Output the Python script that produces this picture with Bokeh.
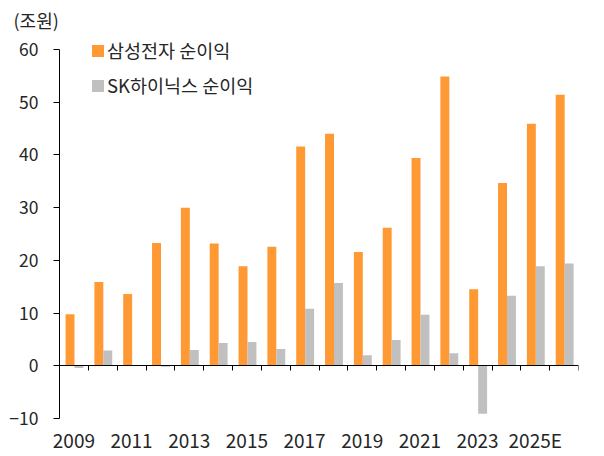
import numpy as np
from bokeh.plotting import figure
from bokeh.models import (ColumnDataSource, LinearAxis, FixedTicker, Range1d, Title)
from bokeh.transform import dodge
from bokeh.embed import file_html
from bokeh.resources import INLINE

years = ["2009", "2010", "2011", "2012", "2013", "2014", "2015", "2016", "2017",
         "2018", "2019", "2020", "2021", "2022", "2023", "2024", "2025E", "2026E"]
samsung = [9.8, 15.9, 13.6, 23.3, 30.0, 23.2, 18.9, 22.6, 41.6,
           44.0, 21.6, 26.2, 39.4, 54.9, 14.5, 34.7, 45.9, 51.4]
hynix = [-0.4, 2.9, 0.1, -0.2, 3.0, 4.3, 4.5, 3.2, 10.8,
         15.7, 2.0, 4.9, 9.7, 2.4, -9.1, 13.3, 18.9, 19.4]
y_ticks = [-10, 0, 10, 20, 30, 40, 50, 60]
unit_label = "(조원)"
series_names = ["삼성전자 순이익", "SK하이닉스 순이익"]

FONT = "Noto Sans CJK KR"
ORANGE = "#FF9933"
GRAY = "#C0C0C0"
TXT = "#262626"

x = np.arange(len(years))
src = ColumnDataSource(dict(x=x, samsung=samsung, hynix=hynix))

xr = Range1d(-0.5, len(years) - 0.5)
# a little headroom above the top tick so the legend stays inside the plot area
yr = Range1d(y_ticks[0], y_ticks[-1] + 2.66)

p = figure(width=596, height=456, x_range=xr, y_range=yr,
           output_backend="svg", toolbar_location=None,
           min_border_left=59, min_border_right=18, min_border_top=35,
           min_border_bottom=38)
p.outline_line_color = None
p.grid.grid_line_color = None

p.vbar(x=dodge("x", -0.135, range=xr), top="samsung", width=0.31, source=src,
       fill_color=ORANGE, line_color=None, legend_label=series_names[0])
p.vbar(x=dodge("x", 0.175, range=xr), top="hynix", width=0.31, source=src,
       fill_color=GRAY, line_color=None, legend_label=series_names[1])

ya = p.yaxis[0]
ya.ticker = FixedTicker(ticks=y_ticks)
ya.bounds = (y_ticks[0], y_ticks[-1])
ya.major_tick_out = 6
ya.major_tick_in = 0
ya.minor_tick_out = 0
ya.minor_tick_in = 0
ya.axis_line_color = "black"
ya.major_tick_line_color = "black"
ya.major_label_text_font = FONT
ya.major_label_text_font_size = "17.5px"
ya.major_label_text_color = TXT
ya.major_label_standoff = 15

xa = p.xaxis[0]
xa.ticker = FixedTicker(ticks=[int(i) for i in x[::2]])
xa.major_label_overrides = {int(i): years[i] for i in x[::2]}
xa.axis_line_color = None
xa.major_tick_line_color = None
xa.minor_tick_line_color = None
xa.major_tick_out = 0
xa.major_tick_in = 0
xa.major_label_text_font = FONT
xa.major_label_text_font_size = "19px"
xa.major_label_text_color = TXT
xa.major_label_standoff = 7

boundaries = [float(i) + 0.5 for i in x]
za = LinearAxis(fixed_location=0, ticker=FixedTicker(ticks=boundaries),
                major_tick_in=0, major_tick_out=5, minor_tick_in=0, minor_tick_out=0,
                major_label_overrides={b: "" for b in boundaries},
                major_label_standoff=0, major_label_text_font_size="1px",
                axis_line_color="black", major_tick_line_color="black")
p.add_layout(za, "below")

p.add_layout(Title(text=unit_label, align="left", offset=-46, standoff=5,
                   text_font=FONT, text_font_size="18px", text_font_style="normal",
                   text_color=TXT), "above")

lg = p.legend[0]
lg.location = (31, 320)
lg.border_line_color = None
lg.background_fill_alpha = 0
lg.padding = 0
lg.margin = 0
lg.spacing = 9
lg.glyph_width = 15
lg.glyph_height = 15
lg.label_height = 21
lg.label_standoff = 2
lg.label_text_font = FONT
lg.label_text_font_size = "18.5px"
lg.label_text_color = TXT

open("out.html", "w").write(file_html(p, INLINE))
